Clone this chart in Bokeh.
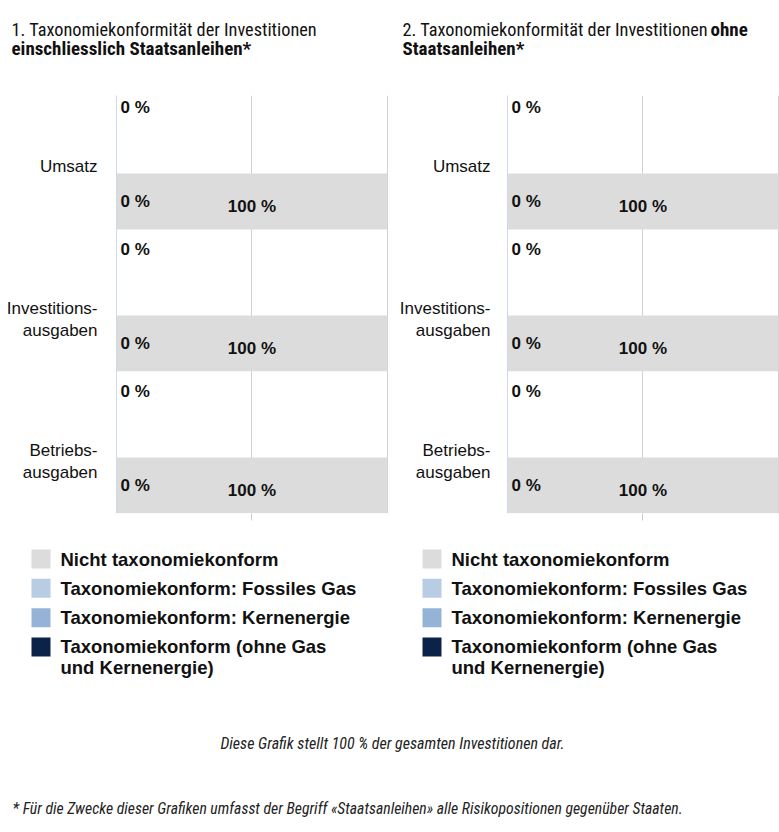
from bokeh.plotting import figure
from bokeh.layouts import column, row
from bokeh.models import Range1d, FixedTicker
from bokeh.core.properties import value
from bokeh.embed import file_html
from bokeh.resources import INLINE

# ---------------- data ----------------
categories = ["Umsatz", "Investitions-\nausgaben", "Betriebs-\nausgaben"]

# Panel 1: including sovereign bonds
p1_fossil_gas = [0, 0, 0]
p1_nuclear = [0, 0, 0]
p1_taxo_other = [0, 0, 0]
p1_not_taxo = [100, 100, 100]

# Panel 2: excluding sovereign bonds
p2_fossil_gas = [0, 0, 0]
p2_nuclear = [0, 0, 0]
p2_taxo_other = [0, 0, 0]
p2_not_taxo = [100, 100, 100]

grid_ticks = [50, 100]
axis_ticks = [50]

title1 = ["1. Taxonomiekonformität der Investitionen", "", "einschliesslich Staatsanleihen*"]
title2 = ["2. Taxonomiekonformität der Investitionen", "ohne", "Staatsanleihen*"]

legend_labels = [
    "Nicht taxonomiekonform",
    "Taxonomiekonform: Fossiles Gas",
    "Taxonomiekonform: Kernenergie",
    "Taxonomiekonform (ohne Gas\nund Kernenergie)",
]
C_NOT = "#dcdcdc"
C_GAS = "#b8cce4"
C_NUC = "#95b3d7"
C_OTHER = "#0c2349"
legend_colors = [C_NOT, C_GAS, C_NUC, C_OTHER]

note = "Diese Grafik stellt 100 % der gesamten Investitionen dar."
footnote = ("* Für die Zwecke dieser Grafiken umfasst der Begriff «Staatsanleihen» "
            "alle Risikopositionen gegenüber Staaten.")

# ---------------- styling ----------------
FONT_NAME = "Liberation Sans"
FONT = value(FONT_NAME)
NARROW = value("Roboto Condensed")
TXT = "#111111"

UP_BAR = 0.35
UP_LABEL = 0.085
LOW_BAR = 0.746
LOW_LABEL = 0.78
BAR_H = 0.394
LINE_SHIFT = 11 / 142  # extra shift per additional label line


def pct(v):
    return f"{v:g} %"


def chart(gas, nuc, other, not_t, width, b_left, b_right, standoff):
    n = len(categories)
    p = figure(width=width, height=442, x_range=Range1d(0, 100.4),
               y_range=Range1d(2.944, 0),
               min_border_left=b_left, min_border_right=b_right,
               min_border_top=7, min_border_bottom=17,
               toolbar_location=None, output_backend="svg")
    p.outline_line_color = None
    p.background_fill_color = "white"

    y_up = [i + UP_BAR for i in range(n)]
    y_low = [i + LOW_BAR for i in range(n)]

    gas_r = [g for g in gas]
    nuc_r = [g + k for g, k in zip(gas, nuc)]
    p.hbar(y=y_up, left=[0] * n, right=gas_r, height=BAR_H, fill_color=C_GAS, line_color=None)
    p.hbar(y=y_up, left=gas_r, right=nuc_r, height=BAR_H, fill_color=C_NUC, line_color=None)
    oth_r = [o for o in other]
    not_r = [o + t for o, t in zip(other, not_t)]
    p.hbar(y=y_low, left=[0] * n, right=oth_r, height=BAR_H, fill_color=C_OTHER, line_color=None)
    p.hbar(y=y_low, left=oth_r, right=not_r, height=BAR_H, fill_color=C_NOT, line_color=None)

    common = dict(text_font=FONT, text_font_style="bold", text_font_size="17px",
                  text_color=TXT, text_baseline="middle")
    p.text(x=[0] * n, y=[i + UP_LABEL for i in range(n)],
           text=[pct(v) for v in nuc_r], x_offset=4, text_align="left", **common)
    p.text(x=[0] * n, y=y_low, text=[pct(v) for v in other],
           x_offset=4, text_align="left", **common)
    p.text(x=[o + t / 2 for o, t in zip(other, not_t)], y=[i + LOW_LABEL for i in range(n)],
           text=[pct(v) for v in not_t], text_align="center", **common)

    tick_pos = [i + 0.5 + (categories[i].count("\n")) * LINE_SHIFT for i in range(n)]
    p.yaxis.ticker = FixedTicker(ticks=tick_pos)
    p.yaxis.major_label_overrides = {tick_pos[i]: categories[i] for i in range(n)}
    p.yaxis.axis_line_color = "#ccd9ee"
    p.yaxis.major_tick_line_color = None
    p.yaxis.minor_tick_line_color = None
    p.yaxis.major_tick_out = 0
    p.yaxis.major_tick_in = 0
    p.yaxis.minor_tick_out = 0
    p.yaxis.major_label_standoff = standoff
    p.yaxis.major_label_text_font = FONT_NAME
    p.yaxis.major_label_text_font_size = "17px"
    p.yaxis.major_label_text_color = TXT

    p.xaxis.ticker = FixedTicker(ticks=axis_ticks)
    p.xaxis.major_label_overrides = {t: "" for t in axis_ticks}
    p.xaxis.major_label_text_font_size = "1px"
    p.xaxis.major_label_standoff = 0
    p.xaxis.axis_line_color = None
    p.xaxis.major_tick_in = 0
    p.xaxis.major_tick_out = 7
    p.xaxis.major_tick_line_color = "#cccccc"
    p.xaxis.minor_tick_line_color = None

    p.ygrid.visible = False
    p.xgrid.ticker = FixedTicker(ticks=grid_ticks)
    p.xgrid.grid_line_color = "#d0d0d0"
    p.xgrid.grid_line_width = 1
    return p


def pixel_fig(w, h):
    p = figure(width=w, height=h, x_range=Range1d(0, w), y_range=Range1d(h, 0),
               x_axis_type=None, y_axis_type=None, min_border=0,
               toolbar_location=None, output_backend="svg")
    p.outline_line_color = None
    p.grid.visible = False
    return p


W = 779
SPLIT = 396

# ---------------- header ----------------
header = pixel_fig(W, 88)
h_reg = dict(text_font=NARROW, text_font_size="18.3px", text_color=TXT,
             text_baseline="alphabetic", text_align="left")
h_bold = dict(text_font=NARROW, text_font_size="19px", text_color=TXT,
              text_font_style="bold", text_baseline="alphabetic", text_align="left")
header.text(x=[11, 402], y=[29, 29], text=[title1[0], title2[0]], **h_reg)
header.text(x=[710], y=[29], text=[title2[1]], **h_bold)
header.text(x=[11, 402], y=[48, 48], text=[title1[2], title2[2]], **h_bold)

# ---------------- charts ----------------
c1 = chart(p1_fossil_gas, p1_nuclear, p1_taxo_other, p1_not_taxo, SPLIT, 116, 8, 19)
c2 = chart(p2_fossil_gas, p2_nuclear, p2_taxo_other, p2_not_taxo, W - SPLIT, 111, 0, 17)

# ---------------- legends ----------------
leg = pixel_fig(W, 170)
for off in (31, 422):
    tops = [19 + k * 29.33 for k in range(len(legend_labels))]
    leg.rect(x=[off + 9.5] * len(tops), y=[t + 9.5 for t in tops], width=19, height=19,
             fill_color=legend_colors, line_color=None)
    xs, ys, ts = [], [], []
    for t, lab in zip(tops, legend_labels):
        for j, line in enumerate(lab.split("\n")):
            xs.append(off + 29)
            ys.append(t + 9.5 + 21 * j)
            ts.append(line)
    leg.text(x=xs, y=ys, text=ts, text_font=FONT, text_font_style="bold",
             text_font_size="18.5px", text_color=TXT, text_baseline="middle", text_align="left")

# ---------------- footer ----------------
foot = pixel_fig(W, 130)
foot.text(x=[392], y=[43], text=[note], text_font=NARROW, text_font_style="italic",
          text_font_size="16px", text_color="#222222", text_align="center",
          text_baseline="alphabetic")
foot.text(x=[12], y=[108], text=[footnote], text_font=NARROW, text_font_style="italic",
          text_font_size="15.75px", text_color="#222222", text_align="left",
          text_baseline="alphabetic")

layout = column(header, row(c1, c2), leg, foot)
open("out.html", "w").write(file_html(layout, INLINE))
